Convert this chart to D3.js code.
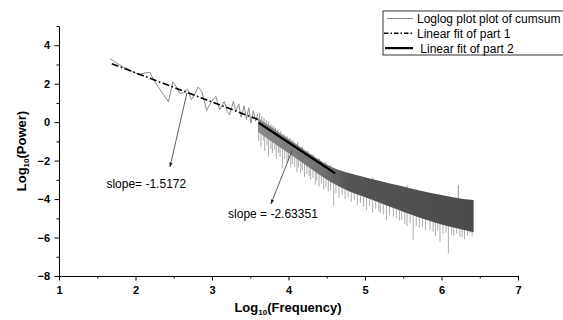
<!DOCTYPE html>
<html>
<head>
<meta charset="utf-8">
<script src="https://cdn.jsdelivr.net/npm/d3@7/dist/d3.min.js"></script>
<style>
  body { margin: 0; background: #fff; }
  svg { display: block; font-family: "Liberation Sans", Arial, sans-serif; }
</style>
</head>
<body>
<div id="chart"></div>
<script>
// low frequency part of the spectrum
const sparseX = [1.67, 1.76, 1.84, 1.93, 2.04, 2.11, 2.19, 2.23, 2.32, 2.43, 2.49, 2.54, 2.58, 2.63, 2.68, 2.73, 2.78, 2.82, 2.87, 2.93, 2.98, 3.05, 3.10, 3.16, 3.20, 3.23, 3.28, 3.31, 3.35, 3.38, 3.42, 3.45, 3.48, 3.51, 3.54, 3.57, 3.60]
const sparseY = [3.30, 3.05, 2.88, 2.70, 2.48, 2.55, 2.59, 2.24, 1.70, 1.06, 2.10, 1.80, 1.48, 1.55, 1.72, 1.17, 1.50, 1.83, 1.55, 0.61, 1.00, 1.34, 0.64, 1.08, 0.55, 0.38, 1.08, 0.55, 0.95, 0.25, 0.85, 0.15, 0.75, -0.05, 0.60, 0.05, 0.45]

// dense high frequency part: envelope of the noisy band
const bandX = [3.60, 3.70, 3.80, 3.90, 4.00, 4.10, 4.20, 4.30, 4.40, 4.50, 4.60, 4.70, 4.80, 4.90, 5.00, 5.20, 5.40, 5.60, 5.80, 6.00, 6.20, 6.42]
const bandTop = [0.20, -0.05, -0.32, -0.60, -0.87, -1.14, -1.42, -1.70, -1.96, -2.20, -2.40, -2.54, -2.66, -2.76, -2.86, -3.06, -3.26, -3.45, -3.63, -3.79, -3.94, -4.05]
const bandBottom = [-0.50, -0.78, -1.06, -1.34, -1.60, -1.88, -2.16, -2.44, -2.72, -2.98, -3.22, -3.42, -3.60, -3.76, -3.90, -4.20, -4.50, -4.80, -5.08, -5.32, -5.52, -5.72]

// downward spikes below the band
const spikeX = [3.61, 3.64, 3.67, 3.69, 3.72, 3.74, 3.77, 3.79, 3.82, 3.84, 3.87, 3.89, 3.92, 3.95, 3.98, 4.00, 4.03, 4.05, 4.08, 4.11, 4.13, 4.16, 4.18, 4.21, 4.24, 4.27, 4.29, 4.32, 4.35, 4.37, 4.40, 4.43, 4.46, 4.49, 4.52, 4.55, 4.59, 4.62, 4.66, 4.70, 4.74, 4.78, 4.82, 4.86, 4.90, 4.94, 4.98, 5.02, 5.06, 5.10, 5.14, 5.18, 5.20, 5.24, 5.28, 5.32, 5.37, 5.41, 5.45, 5.48, 5.52, 5.55, 5.59, 5.63, 5.67, 5.71, 5.75, 5.79, 5.85, 5.89, 5.92, 5.95, 5.98, 6.02, 6.06, 6.09, 6.13, 6.16, 6.20, 6.24, 6.27, 6.30, 6.34, 6.37, 6.40]
const spikeY = [-1.00, -1.30, -0.95, -1.50, -1.20, -1.80, -1.40, -1.60, -1.45, -1.90, -1.60, -1.80, -2.39, -1.90, -2.10, -2.00, -2.35, -2.20, -2.30, -2.60, -2.35, -2.65, -2.50, -2.85, -2.70, -2.80, -3.00, -2.90, -3.25, -3.05, -3.35, -3.20, -3.50, -3.40, -3.60, -3.55, -4.35, -3.70, -3.95, -3.80, -4.00, -3.90, -4.15, -4.05, -4.30, -4.20, -4.40, -4.56, -4.35, -4.70, -4.50, -4.65, -4.72, -4.80, -5.10, -4.85, -4.91, -5.00, -5.10, -5.08, -5.30, -5.40, -5.25, -6.13, -5.40, -5.50, -5.45, -5.60, -5.60, -5.70, -5.90, -5.65, -6.21, -5.80, -5.75, -6.82, -5.85, -5.90, -5.80, -5.95, -6.00, -6.10, -5.90, -5.76, -5.95]

// spikes above the band
const upSpikeX = [3.62, 3.65, 3.68, 3.71, 3.74, 3.77, 3.80, 3.83, 3.86, 3.90, 3.94, 3.98, 4.02, 4.06, 4.12, 4.18, 4.25, 4.32, 4.40, 4.48, 4.55, 5.10, 5.55, 6.22]
const upSpikeY = [0.45, 0.30, 0.20, 0.10, 0.02, -0.12, -0.18, -0.30, -0.38, -0.48, -0.62, -0.72, -0.80, -0.95, -1.05, -1.28, -1.48, -1.68, -1.88, -2.08, -2.24, -2.88, -3.28, -3.26]

// linear fits
const fit1X = [1.69, 3.60]
const fit1Y = [3.04, 0.14]
const fit2X = [3.61, 4.61]
const fit2Y = [-0.03, -2.66]

// annotations
const noteLabels = ["slope= -1.5172", "slope = -2.63351"]
const noteX = [1.62, 3.21]
const noteY = [-3.42, -4.98]
const arrowFromX = [2.673, 4.046]
const arrowFromY = [1.53, -1.49]
const arrowToX = [2.451, 3.771]
const arrowToY = [-2.32, -4.25]

const legendLabels = ["Loglog plot plot of cumsum", "Linear fit of part 1", " Linear fit of part 2"]

const xTicks = [1, 2, 3, 4, 5, 6, 7]
const xMinorTicks = [1.5, 2.5, 3.5, 4.5, 5.5, 6.5]
const yTicks = [-8, -6, -4, -2, 0, 2, 4]
const yMinorTicks = [-7, -5, -3, -1, 1, 3, 5]

const config = {
  width: 563,
  height: 320,
  margin: { top: 26, right: 45, bottom: 44, left: 59 },
  font: "\"Liberation Sans\", Arial, sans-serif"
}

function drawChart () {
  const svg = d3.select("#chart").append("svg")
      .attr("width", config.width)
      .attr("height", config.height)

  const x = d3.scaleLinear()
      .domain([1, 7])
      .range([config.margin.left, config.width - config.margin.right])
  const y = d3.scaleLinear()
      .domain([-8, 5])
      .range([config.height - config.margin.bottom, config.margin.top])

  const defs = svg.append("defs")
  defs.append("marker")
      .attr("id", "arrow")
      .attr("viewBox", "0 0 10 10")
      .attr("refX", 9)
      .attr("refY", 5)
      .attr("markerWidth", 6)
      .attr("markerHeight", 6)
      .attr("orient", "auto")
    .append("path")
      .attr("d", "M0,1.5L10,5L0,8.5Z")
      .attr("fill", "#222")

  // band gets lighter where noise is thinner (below 4.6)
  const grad = defs.append("linearGradient")
      .attr("id", "bandGrad")
      .attr("gradientUnits", "userSpaceOnUse")
      .attr("x1", x(3.6)).attr("x2", x(6.42))
      .attr("y1", 0).attr("y2", 0)
  grad.append("stop").attr("offset", 0).attr("stop-color", "#8a8a8a")
  grad.append("stop").attr("offset", 0.3).attr("stop-color", "#707070")
  grad.append("stop").attr("offset", 0.42).attr("stop-color", "#545454")
  grad.append("stop").attr("offset", 1).attr("stop-color", "#4b4b4b")

  const band = bandX.map((d, i) => ({ x: d, top: bandTop[i], bottom: bandBottom[i] }))
  const bottomAt = d3.scaleLinear().domain(bandX).range(bandBottom)
  const topAt = d3.scaleLinear().domain(bandX).range(bandTop)

  // spikes under the band
  svg.append("g")
      .attr("stroke", "#a3a3a3")
      .attr("stroke-width", 0.9)
    .selectAll("line")
    .data(spikeX.map((d, i) => ({ x: d, y: spikeY[i] })))
    .join("line")
      .attr("x1", d => x(d.x))
      .attr("x2", d => x(d.x))
      .attr("y1", d => y(bottomAt(d.x)) - 2)
      .attr("y2", d => y(d.y))

  svg.append("g")
      .attr("stroke", "#888")
      .attr("stroke-width", 0.9)
    .selectAll("line")
    .data(upSpikeX.map((d, i) => ({ x: d, y: upSpikeY[i] })))
    .join("line")
      .attr("x1", d => x(d.x))
      .attr("x2", d => x(d.x))
      .attr("y1", d => y(topAt(d.x)) + 2)
      .attr("y2", d => y(d.y))

  svg.append("path")
      .datum(band)
      .attr("fill", "url(#bandGrad)")
      .attr("d", d3.area()
        .curve(d3.curveMonotoneX)
        .x(d => x(d.x))
        .y0(d => y(d.bottom))
        .y1(d => y(d.top)))

  svg.append("path")
      .datum(sparseX.map((d, i) => [d, sparseY[i]]))
      .attr("fill", "none")
      .attr("stroke", "#8c8c8c")
      .attr("stroke-width", 1)
      .attr("d", d3.line().x(d => x(d[0])).y(d => y(d[1])))

  // fit lines
  svg.append("path")
      .datum(fit1X.map((d, i) => [d, fit1Y[i]]))
      .attr("fill", "none")
      .attr("stroke", "#000")
      .attr("stroke-width", 1.6)
      .attr("stroke-dasharray", "7,2.5,1.6,2.5")
      .attr("d", d3.line().x(d => x(d[0])).y(d => y(d[1])))

  svg.append("path")
      .datum(fit2X.map((d, i) => [d, fit2Y[i]]))
      .attr("fill", "none")
      .attr("stroke", "#000")
      .attr("stroke-width", 2.2)
      .attr("d", d3.line().x(d => x(d[0])).y(d => y(d[1])))

  // axes
  const xAxis = svg.append("g")
      .attr("transform", `translate(0,${y(-8)})`)
      .call(d3.axisBottom(x).tickValues(xTicks).tickSize(4.5).tickSizeOuter(0).tickPadding(6).tickFormat(d3.format("d")))
  svg.append("g")
      .attr("transform", `translate(0,${y(-8)})`)
      .call(d3.axisBottom(x).tickValues(xMinorTicks).tickSize(2.5).tickSizeOuter(0).tickFormat(""))
      .call(g => g.select(".domain").remove())

  const yAxis = svg.append("g")
      .attr("transform", `translate(${x(1)},0)`)
      .call(d3.axisLeft(y).tickValues(yTicks).tickSize(4.5).tickSizeOuter(0).tickPadding(4.5).tickFormat(d3.format("d")))
  svg.append("g")
      .attr("transform", `translate(${x(1)},0)`)
      .call(d3.axisLeft(y).tickValues(yMinorTicks).tickSize(2.5).tickSizeOuter(0).tickFormat(""))
      .call(g => g.select(".domain").remove())

  ;[xAxis, yAxis].forEach(g => {
    g.selectAll("text")
        .attr("font-family", config.font)
        .attr("font-size", 11)
        .attr("font-weight", "bold")
        .attr("fill", "#000")
  })
  svg.selectAll(".domain, .tick line").attr("stroke", "#000")

  // axis titles
  const xTitle = svg.append("text")
      .attr("x", 288)
      .attr("y", 312)
      .attr("text-anchor", "middle")
      .attr("font-size", 13)
      .attr("font-weight", "bold")
  xTitle.append("tspan").text("Log")
  xTitle.append("tspan").attr("font-size", 8).attr("dy", 3).text("10")
  xTitle.append("tspan").attr("dy", -3).text("(Frequency)")

  const yTitle = svg.append("text")
      .attr("transform", "translate(26,151) rotate(-90)")
      .attr("text-anchor", "middle")
      .attr("font-size", 13)
      .attr("font-weight", "bold")
  yTitle.append("tspan").text("Log")
  yTitle.append("tspan").attr("font-size", 8).attr("dy", 3).text("10")
  yTitle.append("tspan").attr("dy", -3).text("(Power)")

  // annotations
  svg.append("g")
      .attr("stroke", "#333")
      .attr("stroke-width", 0.8)
    .selectAll("line")
    .data(arrowFromX.map((d, i) => ({ x1: d, y1: arrowFromY[i], x2: arrowToX[i], y2: arrowToY[i] })))
    .join("line")
      .attr("x1", d => x(d.x1))
      .attr("y1", d => y(d.y1))
      .attr("x2", d => x(d.x2))
      .attr("y2", d => y(d.y2))
      .attr("marker-end", "url(#arrow)")

  svg.append("g")
    .selectAll("text")
    .data(noteLabels)
    .join("text")
      .attr("x", (d, i) => x(noteX[i]))
      .attr("y", (d, i) => y(noteY[i]))
      .attr("font-size", 12)
      .attr("fill", "#000")
      .text(d => d)

  drawLegend(svg)
}

function drawLegend (svg) {
  const left = 383
  const top = 11
  const rowHeight = 14.8

  const legend = svg.append("g").attr("class", "legend")
  legend.append("rect")
      .attr("x", left)
      .attr("y", top)
      .attr("width", 200)
      .attr("height", 44)
      .attr("fill", "#fff")
      .attr("stroke", "#000")
      .attr("stroke-width", 0.8)

  const styles = [
    { stroke: "#8c8c8c", width: 1, dash: null, x1: 387 },
    { stroke: "#000", width: 1.4, dash: "4.5,2,1.5,2", x1: 384 },
    { stroke: "#000", width: 2.2, dash: null, x1: 385 }
  ]

  const rows = legend.selectAll(".legend-row")
    .data(legendLabels)
    .join("g")
      .attr("class", "legend-row")
      .attr("transform", (d, i) => `translate(0,${top + 7.5 + i * rowHeight})`)

  rows.append("line")
      .attr("x1", (d, i) => styles[i].x1)
      .attr("x2", 413)
      .attr("y1", 0)
      .attr("y2", 0)
      .attr("stroke", (d, i) => styles[i].stroke)
      .attr("stroke-width", (d, i) => styles[i].width)
      .attr("stroke-dasharray", (d, i) => styles[i].dash)

  rows.append("text")
      .attr("x", 417)
      .attr("y", 4.5)
      .attr("font-size", 12)
      .attr("fill", "#000")
      .style("white-space", "pre")
      .text(d => d)
}

drawChart()
</script>
</body>
</html>
